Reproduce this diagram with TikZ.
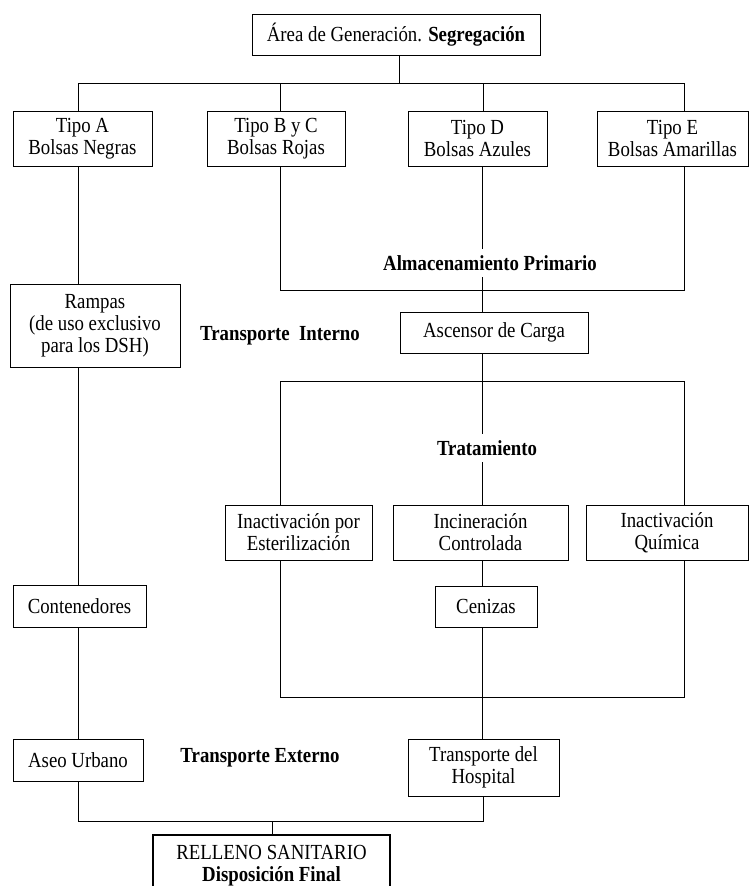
\documentclass[tikz,border=0pt]{standalone}
\usepackage{fontspec}
\setmainfont{Liberation Serif}[FakeStretch=0.875]
\begin{document}
\begin{tikzpicture}[x=1pt,y=-1pt,
  every node/.style={font=\fontsize{21.5}{22}\selectfont},
  box/.style={draw, line width=1pt, align=center, inner sep=0pt},
  lbl/.style={font=\fontsize{21.5}{22}\selectfont\bfseries, fill=white, inner xsep=2pt, inner ysep=6pt},
  conn/.style={line width=1pt}]
\path[use as bounding box] (0,0) rectangle (750,886);
\clip (0,0) rectangle (750,886);

% nodes
\node[box, minimum width=288, minimum height=41] (top) at (396,34.5) {Área de Generación. \textbf{Segregación}};
\node[box, minimum width=139, minimum height=55] (tA) at (82.5,138.5) {Tipo A\\Bolsas Negras};
\node[box, minimum width=138, minimum height=55] (tBC) at (276,138.5) {Tipo B y C\\Bolsas Rojas};
\node[box, minimum width=139, minimum height=55] (tD) at (477.5,138.5) {Tipo D\\Bolsas Azules};
\node[box, minimum width=151, minimum height=55] (tE) at (672.5,138.5) {Tipo E\\Bolsas Amarillas};
\node[box, minimum width=170, minimum height=83] (ramp) at (95,325.5) {Rampas\\(de uso exclusivo\\para los DSH)};
\node[box, minimum width=188, minimum height=41] (asc) at (494,332.5) {Ascensor de Carga};
\node[box, minimum width=147, minimum height=55] (est) at (298.5,532.5) {Inactivación por\\Esterilización};
\node[box, minimum width=175, minimum height=55] (inc) at (480.5,532.5) {Incineración\\Controlada};
\node[box, minimum width=162, minimum height=55] (qui) at (667,532.5) {Inactivación\\Química};
\node[box, minimum width=133, minimum height=42] (cont) at (79.5,606) {Contenedores};
\node[box, minimum width=102, minimum height=41] (cen) at (486,606.5) {Cenizas};
\node[box, minimum width=130, minimum height=42] (aseo) at (78,760) {Aseo Urbano};
\node[box, minimum width=151, minimum height=57] (hosp) at (483.5,767.5) {Transporte del\\Hospital};
\node[box, line width=2.6pt, minimum width=237, minimum height=62] (rell) at (271.5,866) {RELLENO SANITARIO\\\textbf{Disposición Final}};

% junction coordinates
\coordinate (j1) at (399,83);
\coordinate (jA) at (78,83);
\coordinate (jBC) at (280,83);
\coordinate (jD) at (483,83);
\coordinate (jE) at (684,83);
\coordinate (aL) at (280,290);
\coordinate (aM) at (482,290);
\coordinate (aR) at (684,290);
\coordinate (tL) at (280,381);
\coordinate (tM) at (482,381);
\coordinate (tR) at (684,381);
\coordinate (bL) at (280,697);
\coordinate (bR) at (684,697);
\coordinate (fL) at (78,821);
\coordinate (fM) at (272,821);
\coordinate (fR) at (483,821);

% connectors: segregation
\draw[conn] (top.south -| j1) -- (j1);
\draw[conn] (jA) -- (jE);
\draw[conn] (jA) -- (jA |- tA.north);
\draw[conn] (jBC) -- (jBC |- tBC.north);
\draw[conn] (jD) -- (jD |- tD.north);
\draw[conn] (jE) -- (jE |- tE.north);

% almacenamiento primario
\draw[conn] (tBC.south -| aL) -- (aL) -- (aR) -- (tE.south -| aR);
\draw[conn] (tD.south -| aM) -- (aM |- asc.north);
\node[lbl] (alm) at (490,263) {Almacenamiento Primario};

% transporte interno (left)
\draw[conn] (tA.south -| jA) -- (jA |- ramp.north);
\draw[conn] (ramp.south -| jA) -- (jA |- cont.north);
\draw[conn] (cont.south -| jA) -- (jA |- aseo.north);
\node[lbl] (ti) at (280,336) {Transporte\ \ Interno};

% tratamiento
\draw[conn] (tL |- est.north) -- (tL) -- (tR) -- (tR |- qui.north);
\draw[conn] (asc.south -| tM) -- (tM |- inc.north);
\node[lbl] (trat) at (487,448) {Tratamiento};
\draw[conn] (inc.south -| tM) -- (tM |- cen.north);
\draw[conn] (est.south -| bL) -- (bL) -- (bR) -- (qui.south -| bR);
\draw[conn] (cen.south -| tM) -- (tM |- hosp.north);

% transporte externo
\node[lbl] (te) at (260,758) {Transporte Externo};
\draw[conn] (aseo.south -| fL) -- (fL) -- (fR) -- (hosp.south -| fR);
\draw[conn] (fM) -- (fM |- rell.north);
\end{tikzpicture}
\end{document}
